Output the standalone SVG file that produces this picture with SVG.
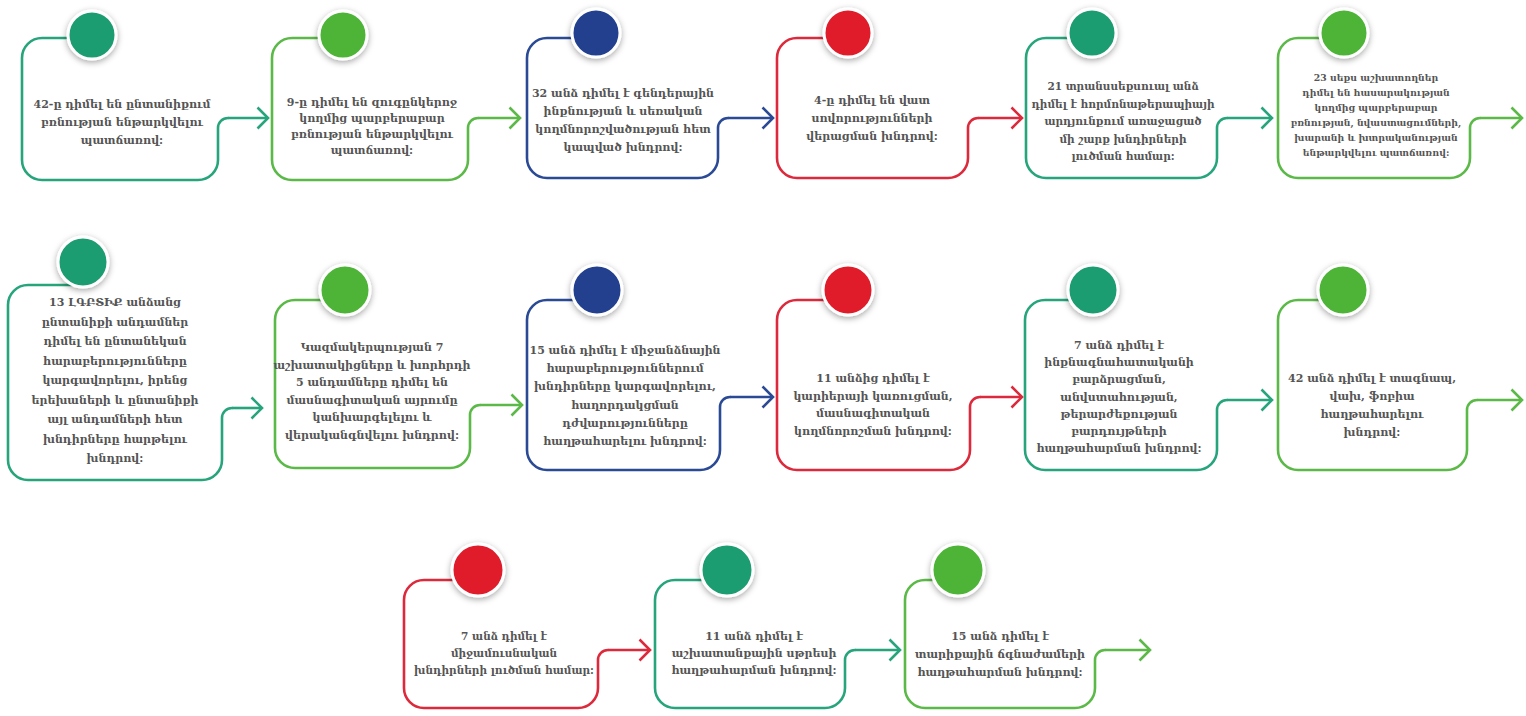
<svg xmlns="http://www.w3.org/2000/svg" width="1526" height="716" viewBox="0 0 1526 716">
<defs>
<style>
.box{fill:none;stroke-width:2.6;stroke-linecap:round;stroke-linejoin:round}
.con{fill:none;stroke-width:2.6}
.teal{stroke:#26a47c}.green{stroke:#5bb948}.blue{stroke:#2b4a96}.red{stroke:#dc2a3c}
.dot{stroke:#ffffff;stroke-width:3;filter:url(#sh)}
.fteal{fill:#1f9c71}.fgreen{fill:#4db437}.fblue{fill:#213f8e}.fred{fill:#e11b2c}
text{font-family:"DejaVu Serif","Noto Serif",serif;font-weight:bold;font-size:11px;fill:#555555;text-anchor:middle}
.sm{font-size:9.3px}
.s2{font-size:10.5px}
</style>
<filter id="sh" x="-50%" y="-50%" width="200%" height="200%">
<feDropShadow dx="0" dy="2" stdDeviation="3" flood-color="#000" flood-opacity="0.35"/>
</filter>
<marker id="mteal" markerUnits="userSpaceOnUse" viewBox="0 0 14 24" refX="12" refY="12" markerWidth="14" markerHeight="24" orient="auto"><path d="M1.5,1.5 L12,12 L1.5,22.5" fill="none" stroke="#26a47c" stroke-width="2.6"/></marker>
<marker id="mgreen" markerUnits="userSpaceOnUse" viewBox="0 0 14 24" refX="12" refY="12" markerWidth="14" markerHeight="24" orient="auto"><path d="M1.5,1.5 L12,12 L1.5,22.5" fill="none" stroke="#5bb948" stroke-width="2.6"/></marker>
<marker id="mblue" markerUnits="userSpaceOnUse" viewBox="0 0 14 24" refX="12" refY="12" markerWidth="14" markerHeight="24" orient="auto"><path d="M1.5,1.5 L12,12 L1.5,22.5" fill="none" stroke="#2b4a96" stroke-width="2.6"/></marker>
<marker id="mred" markerUnits="userSpaceOnUse" viewBox="0 0 14 24" refX="12" refY="12" markerWidth="14" markerHeight="24" orient="auto"><path d="M1.5,1.5 L12,12 L1.5,22.5" fill="none" stroke="#dc2a3c" stroke-width="2.6"/></marker>
</defs>
<rect width="1526" height="716" fill="#ffffff"/>

<g id="connectors">
<path class="con teal" d="M228 118 H268" marker-end="url(#mteal)"/>
<path class="con green" d="M478 118 H520" marker-end="url(#mgreen)"/>
<path class="con blue" d="M728 118 H773" marker-end="url(#mblue)"/>
<path class="con red" d="M978 118 H1022" marker-end="url(#mred)"/>
<path class="con teal" d="M1227 118 H1272" marker-end="url(#mteal)"/>
<path class="con green" d="M1480 118 H1522" marker-end="url(#mgreen)"/>
<path class="con teal" d="M232 408 H262" marker-end="url(#mteal)"/>
<path class="con green" d="M480 405 H522" marker-end="url(#mgreen)"/>
<path class="con blue" d="M730 397 H773" marker-end="url(#mblue)"/>
<path class="con red" d="M980 397 H1022" marker-end="url(#mred)"/>
<path class="con teal" d="M1227 400 H1272" marker-end="url(#mteal)"/>
<path class="con green" d="M1477 400 H1522" marker-end="url(#mgreen)"/>
<path class="con red" d="M608 650 H650" marker-end="url(#mred)"/>
<path class="con teal" d="M855 650 H900" marker-end="url(#mteal)"/>
<path class="con green" d="M1105 650 H1150" marker-end="url(#mgreen)"/>
</g>

<g id="node1">
<path class="box teal" d="M92 38 H42 A20 20 0 0 0 22 58 V160 A20 20 0 0 0 42 180 H198 A20 20 0 0 0 218 160 V128 A10 10 0 0 1 228 118"/>
<circle class="dot fteal" cx="92" cy="35" r="24"/>
<text x="122" y="108">42-ը դիմել են ընտանիքում<tspan x="122" dy="18">բռնության ենթարկվելու</tspan><tspan x="122" dy="18">պատճառով:</tspan></text>
</g>

<g id="node2">
<path class="box green" d="M343 38 H292 A20 20 0 0 0 272 58 V160 A20 20 0 0 0 292 180 H448 A20 20 0 0 0 468 160 V128 A10 10 0 0 1 478 118"/>
<circle class="dot fgreen" cx="343" cy="35" r="24"/>
<text x="372" y="106">9-ը դիմել են զուգընկերոջ<tspan x="372" dy="16">կողմից պարբերաբար</tspan><tspan x="372" dy="16">բռնության ենթարկվելու</tspan><tspan x="372" dy="16">պատճառով:</tspan></text>
</g>

<g id="node3">
<path class="box blue" d="M596 38 H547 A20 20 0 0 0 527 58 V158 A20 20 0 0 0 547 178 H698 A20 20 0 0 0 718 158 V128 A10 10 0 0 1 728 118"/>
<circle class="dot fblue" cx="596" cy="33" r="24"/>
<text x="623" y="97">32 անձ դիմել է գենդերային<tspan x="623" dy="18">ինքնության և սեռական</tspan><tspan x="623" dy="18">կողմնորոշվածության հետ</tspan><tspan x="623" dy="18">կապված խնդրով:</tspan></text>
</g>

<g id="node4">
<path class="box red" d="M848 38 H797 A20 20 0 0 0 777 58 V158 A20 20 0 0 0 797 178 H948 A20 20 0 0 0 968 158 V128 A10 10 0 0 1 978 118"/>
<circle class="dot fred" cx="848" cy="33" r="24"/>
<text x="872" y="104">4-ը դիմել են վատ<tspan x="872" dy="18">սովորությունների</tspan><tspan x="872" dy="18">վերացման խնդրով:</tspan></text>
</g>

<g id="node5">
<path class="box teal" d="M1092 38 H1046 A20 20 0 0 0 1026 58 V158 A20 20 0 0 0 1046 178 H1197 A20 20 0 0 0 1217 158 V128 A10 10 0 0 1 1227 118"/>
<circle class="dot fteal" cx="1092" cy="33" r="24"/>
<text class="s2" x="1123" y="90">21 տրանսսեքսուալ անձ<tspan x="1123" dy="17.5">դիմել է հորմոնաթերապիայի</tspan><tspan x="1123" dy="17.5">արդյունքում առաջացած</tspan><tspan x="1123" dy="17.5">մի շարք խնդիրների</tspan><tspan x="1123" dy="17.5">լուծման համար:</tspan></text>
</g>

<g id="node6">
<path class="box green" d="M1344 38 H1298 A20 20 0 0 0 1278 58 V158 A20 20 0 0 0 1298 178 H1450 A20 20 0 0 0 1470 158 V128 A10 10 0 0 1 1480 118"/>
<circle class="dot fgreen" cx="1344" cy="33" r="24"/>
<text class="sm" x="1376" y="81">23 սեքս աշխատողներ<tspan x="1376" dy="15">դիմել են հասարակության</tspan><tspan x="1376" dy="15">կողմից պարբերաբար</tspan><tspan x="1376" dy="15">բռնության, նվաստացումների,</tspan><tspan x="1376" dy="15">խարանի և խտրականության</tspan><tspan x="1376" dy="15">ենթարկվելու պատճառով:</tspan></text>
</g>

<g id="node7">
<path class="box teal" d="M83 285 H28 A20 20 0 0 0 8 305 V460 A20 20 0 0 0 28 480 H202 A20 20 0 0 0 222 460 V418 A10 10 0 0 1 232 408"/>
<circle class="dot fteal" cx="83" cy="262" r="25"/>
<text x="115" y="306">13 ԼԳԲՏԻՔ անձանց<tspan x="115" dy="19.5">ընտանիքի անդամներ</tspan><tspan x="115" dy="19.5">դիմել են ընտանեկան</tspan><tspan x="115" dy="19.5">հարաբերությունները</tspan><tspan x="115" dy="19.5">կարգավորելու, իրենց</tspan><tspan x="115" dy="19.5">երեխաների և ընտանիքի</tspan><tspan x="115" dy="19.5">այլ անդամների հետ</tspan><tspan x="115" dy="19.5">խնդիրները հարթելու</tspan><tspan x="115" dy="19.5">խնդրով:</tspan></text>
</g>

<g id="node8">
<path class="box green" d="M345 300 H295 A20 20 0 0 0 275 320 V448 A20 20 0 0 0 295 468 H450 A20 20 0 0 0 470 448 V415 A10 10 0 0 1 480 405"/>
<circle class="dot fgreen" cx="345" cy="290" r="25"/>
<text x="372" y="351">Կազմակերպության 7<tspan x="372" dy="17.5">աշխատակիցները և խորհրդի</tspan><tspan x="372" dy="17.5">5 անդամները դիմել են</tspan><tspan x="372" dy="17.5">մասնագիտական այրումը</tspan><tspan x="372" dy="17.5">կանխարգելելու և</tspan><tspan x="372" dy="17.5">վերականգնվելու խնդրով:</tspan></text>
</g>

<g id="node9">
<path class="box blue" d="M597 300 H547 A20 20 0 0 0 527 320 V450 A20 20 0 0 0 547 470 H700 A20 20 0 0 0 720 450 V407 A10 10 0 0 1 730 397"/>
<circle class="dot fblue" cx="597" cy="290" r="25"/>
<text x="625" y="354">15 անձ դիմել է միջանձնային<tspan x="625" dy="18.2">հարաբերություններում</tspan><tspan x="625" dy="18.2">խնդիրները կարգավորելու,</tspan><tspan x="625" dy="18.2">հաղորդակցման</tspan><tspan x="625" dy="18.2">դժվարությունները</tspan><tspan x="625" dy="18.2">հաղթահարելու խնդրով:</tspan></text>
</g>

<g id="node10">
<path class="box red" d="M848 300 H797 A20 20 0 0 0 777 320 V450 A20 20 0 0 0 797 470 H950 A20 20 0 0 0 970 450 V407 A10 10 0 0 1 980 397"/>
<circle class="dot fred" cx="848" cy="290" r="25"/>
<text x="873" y="382">11 անձից դիմել է<tspan x="873" dy="17.5">կարիերայի կառուցման,</tspan><tspan x="873" dy="17.5">մասնագիտական</tspan><tspan x="873" dy="17.5">կողմնորոշման խնդրով:</tspan></text>
</g>

<g id="node11">
<path class="box teal" d="M1093 300 H1045 A20 20 0 0 0 1025 320 V450 A20 20 0 0 0 1045 470 H1197 A20 20 0 0 0 1217 450 V410 A10 10 0 0 1 1227 400"/>
<circle class="dot fteal" cx="1093" cy="290" r="25"/>
<text x="1119" y="349">7 անձ դիմել է<tspan x="1119" dy="17.2">ինքնագնահատականի</tspan><tspan x="1119" dy="17.2">բարձրացման,</tspan><tspan x="1119" dy="17.2">անվստահության,</tspan><tspan x="1119" dy="17.2">թերարժեքության</tspan><tspan x="1119" dy="17.2">բարդույթների</tspan><tspan x="1119" dy="17.2">հաղթահարման խնդրով:</tspan></text>
</g>

<g id="node12">
<path class="box green" d="M1343 300 H1298 A20 20 0 0 0 1278 320 V450 A20 20 0 0 0 1298 470 H1447 A20 20 0 0 0 1467 450 V410 A10 10 0 0 1 1477 400"/>
<circle class="dot fgreen" cx="1343" cy="290" r="25"/>
<text x="1372" y="382">42 անձ դիմել է տագնապ,<tspan x="1372" dy="18">վախ, ֆոբիա</tspan><tspan x="1372" dy="18">հաղթահարելու</tspan><tspan x="1372" dy="18">խնդրով:</tspan></text>
</g>

<g id="node13">
<path class="box red" d="M478 580 H424 A20 20 0 0 0 404 600 V688 A20 20 0 0 0 424 708 H578 A20 20 0 0 0 598 688 V660 A10 10 0 0 1 608 650"/>
<circle class="dot fred" cx="478" cy="570" r="26"/>
<text class="s2" x="504" y="640">7 անձ դիմել է<tspan x="504" dy="17">միջամուսնական</tspan><tspan x="504" dy="17">խնդիրների լուծման համար:</tspan></text>
</g>

<g id="node14">
<path class="box teal" d="M727 580 H675 A20 20 0 0 0 655 600 V688 A20 20 0 0 0 675 708 H825 A20 20 0 0 0 845 688 V660 A10 10 0 0 1 855 650"/>
<circle class="dot fteal" cx="727" cy="570" r="26"/>
<text x="754" y="640">11 անձ դիմել է<tspan x="754" dy="17">աշխատանքային սթրեսի</tspan><tspan x="754" dy="17">հաղթահարման խնդրով:</tspan></text>
</g>

<g id="node15">
<path class="box green" d="M958 580 H925 A20 20 0 0 0 905 600 V688 A20 20 0 0 0 925 708 H1075 A20 20 0 0 0 1095 688 V660 A10 10 0 0 1 1105 650"/>
<circle class="dot fgreen" cx="958" cy="570" r="26"/>
<text x="1000" y="640">15 անձ դիմել է<tspan x="1000" dy="18">տարիքային ճգնաժամերի</tspan><tspan x="1000" dy="18">հաղթահարման խնդրով:</tspan></text>
</g>
</svg>
